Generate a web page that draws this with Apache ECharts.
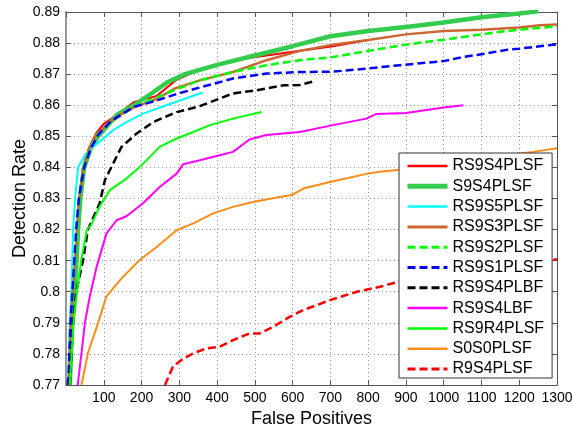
<!DOCTYPE html>
<html>
	<head>
		<meta charset="UTF-8">
		<title>Detection Rate vs False Positives</title>
		<style type="text/css">
			body{ margin:0; background:#fff; }
			#main{ width:572px; height:426px; }
		</style>
	</head>
	<body>
		<div id="main"></div>
		<script src="https://cdn.jsdelivr.net/npm/echarts@6/dist/echarts.min.js" type="text/javascript" charset="utf-8"></script>
		<script type="text/javascript">
			// series names, in legend order
			var names = ['RS9S4PLSF','S9S4PLSF','RS9S5PLSF','RS9S3PLSF','RS9S2PLSF','RS9S1PLSF','RS9S4PLBF','RS9S4LBF','RS9R4PLSF','S0S0PLSF','R9S4PLSF'];
			// tick labels
			var xTickLabels = ['','100','200','300','400','500','600','700','800','900','1000','1100','1200','1300'];
			var yTickLabels = ['0.77','0.78','0.79','0.8','0.81','0.82','0.83','0.84','0.85','0.86','0.87','0.88','0.89'];

			// [false positives, detection rate]
			var rs9s4plsf = [[8,0.77],[14,0.79],[20,0.80],[26,0.81],[30,0.82],[36,0.83],[45,0.84],[60,0.846],[80,0.851],[100,0.854],[136,0.857],[180,0.861],[240,0.863],[290,0.868],[354,0.8715],[442,0.8745],[531,0.876],[619,0.8775],[707,0.879],[800,0.881]];
			var s9s4plsf = [[10,0.77],[16,0.79],[22,0.80],[28,0.81],[32,0.82],[38,0.83],[48,0.84],[65,0.846],[85,0.85],[136,0.857],[180,0.86],[225,0.8637],[270,0.8675],[315,0.87],[400,0.873],[500,0.876],[600,0.879],[700,0.8822],[800,0.8839],[900,0.8852],[1000,0.8866],[1100,0.8883],[1200,0.8895],[1250,0.8902]];
			var rs9s5plsf = [[5,0.77],[10,0.79],[14,0.80],[19,0.82],[24,0.83],[32,0.84],[50,0.8439],[72,0.8466],[125,0.852],[160,0.8546],[204,0.8573],[266,0.86],[354,0.8638],[362,0.864]];
			var rs9s3plsf = [[7,0.77],[13,0.79],[18,0.80],[24,0.81],[29,0.82],[35,0.83],[45,0.84],[62,0.846],[80,0.8505],[130,0.856],[180,0.8593],[240,0.862],[290,0.8655],[354,0.868],[442,0.8707],[531,0.8745],[619,0.8775],[707,0.8795],[800,0.881],[900,0.8828],[1000,0.8839],[1100,0.8843],[1200,0.885],[1254,0.8857],[1300,0.886]];
			var rs9s2plsf = [[7,0.77],[13,0.79],[18,0.80],[24,0.81],[29,0.82],[35,0.83],[46,0.84],[63,0.846],[82,0.8505],[130,0.8555],[180,0.8595],[240,0.8625],[290,0.865],[354,0.868],[442,0.8707],[531,0.8729],[619,0.8745],[707,0.8755],[800,0.8775],[900,0.8795],[1000,0.8811],[1100,0.8828],[1140,0.8835],[1200,0.8843],[1300,0.8854]];
			var rs9s1plsf = [[6,0.77],[12,0.79],[17,0.80],[22,0.81],[27,0.82],[34,0.83],[48,0.84],[65,0.846],[85,0.8505],[120,0.855],[180,0.8595],[240,0.8615],[290,0.8635],[354,0.8657],[442,0.8686],[531,0.8702],[619,0.8707],[707,0.8708],[796,0.8718],[885,0.8729],[1000,0.8742],[1050,0.8755],[1100,0.8764],[1170,0.8779],[1200,0.8782],[1300,0.8796]];
			var rs9s4plbf = [[10,0.77],[19,0.79],[27,0.80],[45,0.81],[58,0.82],[89,0.8284],[103,0.8359],[125,0.8413],[147,0.8466],[187,0.8509],[231,0.8546],[293,0.8578],[354,0.8597],[442,0.8638],[504,0.8648],[575,0.8664],[619,0.8665],[660,0.8678]];
			var rs9s4lbf = [[31,0.77],[45,0.7844],[50,0.79],[63,0.7985],[81,0.808],[107,0.8187],[134,0.823],[160,0.8243],[204,0.8285],[248,0.8337],[293,0.838],[310,0.841],[354,0.8423],[407,0.8439],[442,0.845],[486,0.849],[530,0.8504],[619,0.8514],[707,0.8536],[795,0.8557],[822,0.8572],[900,0.8575],[1000,0.8593],[1052,0.86]];
			var rs9r4plsf = [[10,0.77],[20,0.79],[29,0.80],[40,0.81],[48,0.815],[55,0.82],[67,0.8215],[89,0.8274],[116,0.8327],[160,0.8364],[195,0.8401],[222,0.8434],[248,0.8466],[293,0.8493],[337,0.8514],[381,0.8536],[442,0.8557],[518,0.8578]];
			var s0s0plsf = [[41,0.77],[58,0.7802],[85,0.79],[107,0.7985],[147,0.8043],[195,0.8102],[240,0.8144],[293,0.8198],[337,0.822],[390,0.8252],[442,0.8273],[495,0.8289],[566,0.8305],[598,0.8311],[628,0.8332],[699,0.8353],[798,0.838],[831,0.8386],[893,0.8393],[1000,0.841],[1100,0.843],[1236,0.845],[1300,0.8462]];
			var r9s4plsf = [[262,0.77],[283,0.7759],[305,0.778],[337,0.7802],[372,0.7818],[407,0.7823],[442,0.7844],[486,0.7866],[513,0.7866],[548,0.7887],[592,0.7919],[628,0.7941],[699,0.7973],[770,0.80],[831,0.8016],[880,0.8032],[1000,0.805],[1100,0.807],[1200,0.8085],[1290,0.8102],[1300,0.8105]];

			var seriesData = [rs9s4plsf,s9s4plsf,rs9s5plsf,rs9s3plsf,rs9s2plsf,rs9s1plsf,rs9s4plbf,rs9s4lbf,rs9r4plsf,s0s0plsf,r9s4plsf];
			var colors = ['#ff0000','#33cc4d','#00ffff','#cc6633','#00ff00','#0000ff','#000000','#ff00ff','#00ff00','#ff8c1a','#ff0000'];
			var widths = [2,4.5,2,2.5,2.5,2.5,2.5,2,2,2,2.5];
			var dashed = [false,false,false,false,true,true,true,false,false,false,true];

			var font = 'Liberation Sans, Arial, sans-serif';
			var myChart = echarts.init(document.getElementById("main"));

			var series = [];
			var legendItems = [];
			for (var i = 0; i < names.length; i++) {
				var ls = {
					color: colors[i],
					width: widths[i],
					type: dashed[i] ? [8,4] : 'solid'
				};
				series.push({
					name: names[i],
					type: 'line',
					data: seriesData[i],
					symbol: 'none',
					clip: true,
					animation: false,
					lineStyle: ls,
					// keep the legend marker to a plain line
					itemStyle: { color: 'rgba(0,0,0,0)', borderWidth: 0 }
				});
				legendItems.push({ name: names[i], lineStyle: { width: widths[i] + 0.5 } });
			}

			var option = {
				backgroundColor: '#fff',
				animation: false,
				grid: { left: 66, top: 12, right: 15, bottom: 41, containLabel: false, outerBoundsMode: 'none' },
				legend: {
					data: legendItems,
					orient: 'vertical',
					left: 399,
					top: 153,
					padding: [5, 8, 1, 6],
					itemWidth: 40,
					itemHeight: 14,
					itemGap: 4.3,
					backgroundColor: '#fff',
					borderColor: '#333',
					borderWidth: 1,
					borderRadius: 0,
					itemStyle: { color: 'rgba(0,0,0,0)', borderWidth: 0, opacity: 0 },
					textStyle: { fontFamily: font, fontSize: 16, color: '#000' }
				},
				xAxis: [{
					type: 'value',
					min: 0, max: 1300, interval: 100,
					name: 'False Positives',
					nameLocation: 'middle',
					nameGap: 20,
					nameTextStyle: { fontFamily: font, fontSize: 18, color: '#000' },
					axisLine: { lineStyle: { color: '#555', width: 1 } },
					axisTick: { inside: true, length: 5, lineStyle: { color: '#555' } },
					axisLabel: {
						margin: 6,
						fontFamily: font, fontSize: 14, color: '#000',
						formatter: function (v) { return xTickLabels[Math.round(v / 100)]; }
					},
					splitLine: { show: true, lineStyle: { color: '#999', type: [1,3] } }
				}, {
					type: 'value', position: 'top',
					min: 0, max: 1300, interval: 100,
					axisLine: { show: true, onZero: false, lineStyle: { color: '#555' } },
					axisTick: { inside: true, length: 5, lineStyle: { color: '#555' } },
					axisLabel: { show: false },
					splitLine: { show: false }
				}],
				yAxis: [{
					type: 'value',
					min: 0.77, max: 0.89, interval: 0.01,
					name: 'Detection Rate',
					nameLocation: 'middle',
					nameGap: 37,
					nameMoveOverlap: false,
					nameTextStyle: { fontFamily: font, fontSize: 18, color: '#000' },
					axisLine: { show: true, lineStyle: { color: '#999', width: 2 } },
					axisTick: { show: true, inside: true, length: 5, lineStyle: { color: '#555' } },
					axisLabel: {
						margin: 6,
						fontFamily: font, fontSize: 14, color: '#000',
						formatter: function (v) { return yTickLabels[Math.round((v - 0.77) / 0.01)]; }
					},
					splitLine: { show: true, lineStyle: { color: '#999', type: [1,3] } }
				}, {
					type: 'value', position: 'right',
					min: 0.77, max: 0.89, interval: 0.01,
					axisLine: { show: true, onZero: false, lineStyle: { color: '#555' } },
					axisTick: { show: true, inside: true, length: 5, lineStyle: { color: '#555' } },
					axisLabel: { show: false },
					splitLine: { show: false }
				}],
				series: series
			};
			myChart.setOption(option);
		</script>
	</body>
</html>
